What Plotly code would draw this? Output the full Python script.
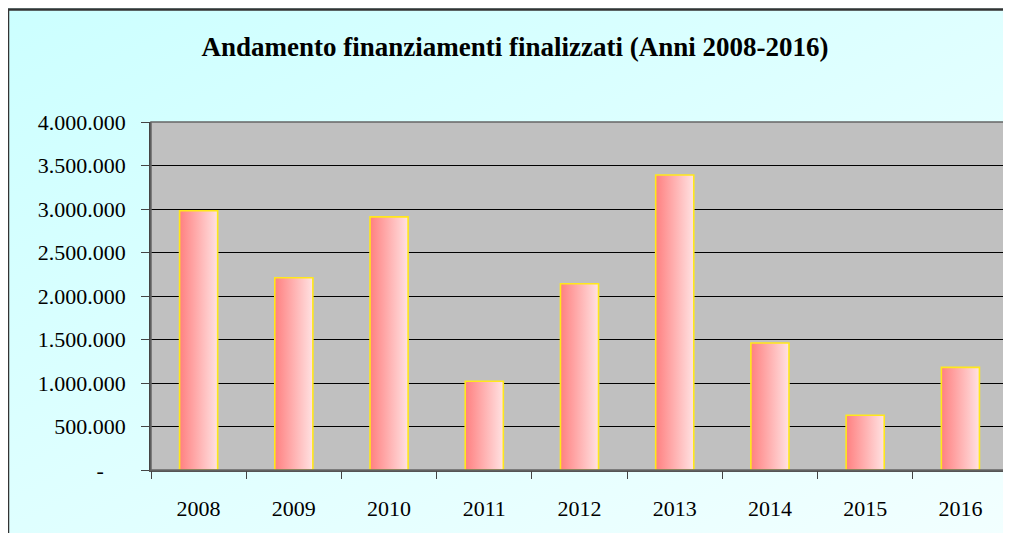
import plotly.graph_objects as go

years = ["2008", "2009", "2010", "2011", "2012", "2013", "2014", "2015", "2016"]
values = [2980000, 2210000, 2910000, 1020000, 2140000, 3390000, 1460000, 630000, 1180000]
y_tickvals = [0, 500000, 1000000, 1500000, 2000000, 2500000, 3000000, 3500000, 4000000]
y_ticktext = ["-\u00a0\u00a0\u00a0\u00a0", "500.000", "1.000.000", "1.500.000", "2.000.000",
              "2.500.000", "3.000.000", "3.500.000", "4.000.000"]
title = "<b>Andamento finanziamenti finalizzati (Anni 2008-2016)</b>"

# the page body has an 8px margin, so the figure starts at (8, 8)
W, H = 1003, 525
ML, MR, MT, MB = 143, 3, 114, 63
PW, PH = W - ML - MR, H - MT - MB
half = 0.2

fig = go.Figure()
for i, (yr, v) in enumerate(zip(years, values)):
    fig.add_trace(go.Scatter(
        x=[i - half, i + half, i + half, i - half, i - half],
        y=[0, 0, v, v, 0],
        mode="lines", fill="toself",
        fillgradient=dict(type="horizontal",
                          colorscale=[[0, "#FF8080"], [1, "#FFE2E2"]]),
        line=dict(color="#FFE81A", width=1.6),
        name=yr, showlegend=False, hoverinfo="skip",
    ))

# boundary ticks on an overlaid axis
fig.add_trace(go.Scatter(x=[0], y=[0], xaxis="x2", mode="markers",
                         marker=dict(opacity=0), showlegend=False, hoverinfo="skip"))

svg = ("data:image/svg+xml;utf8,<svg xmlns='http://www.w3.org/2000/svg' width='1003' height='525'>"
       "<defs><linearGradient id='g' x1='0' y1='0' x2='1' y2='1'>"
       "<stop offset='0' stop-color='%23CCFFFF'/><stop offset='1' stop-color='%23F2FFFF'/>"
       "</linearGradient></defs><rect width='1003' height='525' fill='url(%23g)'/></svg>")

def px_x(p):
    return (p - ML) / PW

def px_y(p):
    return 1 - (p - MT) / PH

fig.update_layout(
    width=W, height=H,
    margin=dict(l=ML, r=MR, t=MT, b=MB, autoexpand=False),
    paper_bgcolor="#DDFFFF",
    plot_bgcolor="#C0C0C0",
    font=dict(family="Liberation Serif", color="black", size=20),
    title=dict(text=title, x=507 / W, xref="container", xanchor="center",
               y=1 - 39 / H, yref="container", yanchor="middle",
               font=dict(family="Liberation Serif", size=27, color="black")),
    xaxis=dict(range=[-0.5, 8.5], tickvals=list(range(len(years))), ticktext=years,
               ticks="", showgrid=False, zeroline=False, automargin=False,
               showline=True, linecolor="#555555", linewidth=1.5,
               tickfont=dict(size=22), ticklabelstandoff=18),
    xaxis2=dict(range=[-0.5, 8.5], overlaying="x", side="bottom", anchor="y",
                tickvals=[i - 0.5 for i in range(len(years) + 1)], automargin=False,
                ticks="outside", ticklen=8, tickwidth=1.2, tickcolor="#444444",
                showticklabels=False, showgrid=False, zeroline=False),
    yaxis=dict(range=[0, 4000000], tickvals=y_tickvals, ticktext=y_ticktext,
               ticks="outside", ticklen=8, tickcolor="#444444", tickwidth=1.2,
               showgrid=True, gridcolor="black", gridwidth=1.2, automargin=False,
               zeroline=False, showline=True, linecolor="#444444", linewidth=1.5,
               mirror=False, tickfont=dict(size=22), ticklabelstandoff=11),
    images=[dict(source=svg, xref="paper", yref="paper",
                 x=px_x(0), y=px_y(0), sizex=W / PW, sizey=H / PH,
                 sizing="stretch", layer="below", xanchor="left", yanchor="top")],
    shapes=[
        dict(type="rect", xref="paper", yref="paper", x0=0, x1=1, y0=0, y1=1,
             line=dict(width=0), fillcolor="#C0C0C0", layer="below"),
        dict(type="rect", xref="paper", yref="paper", x0=0, x1=1, y0=0, y1=1,
             line=dict(color="#666666", width=1.5), fillcolor="rgba(0,0,0,0)", layer="above"),
        dict(type="rect", xref="paper", yref="paper",
             x0=px_x(0), x1=px_x(W + 6), y0=px_y(H + 6), y1=px_y(1.5),
             line=dict(color="#333333", width=2.5), fillcolor="rgba(0,0,0,0)"),
    ],
)

fig.write_html("out.html")
